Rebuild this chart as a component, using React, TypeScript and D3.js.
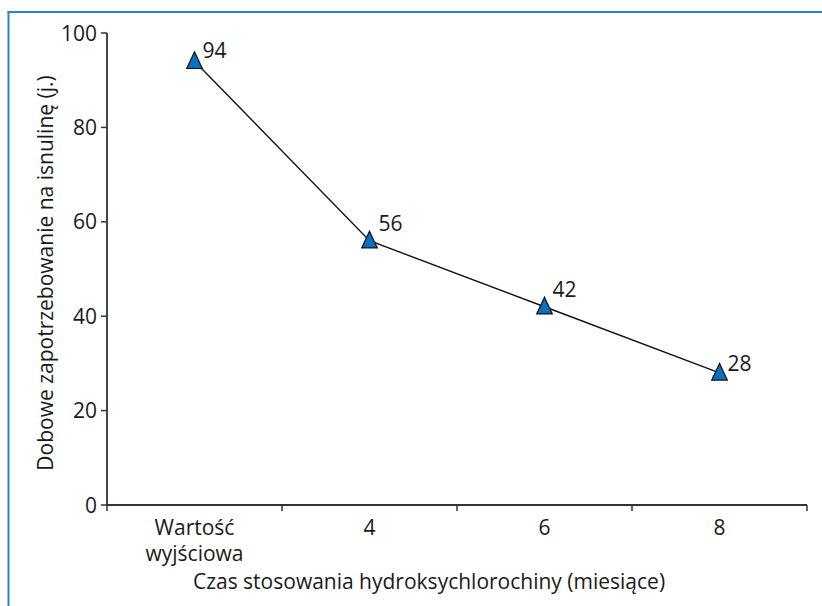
import React from "react";
import * as d3 from "d3";

const categories: string[][] = [["Wartość", "wyjściowa"], ["4"], ["6"], ["8"]];
const categoryKeys = ["base", "4", "6", "8"];
const values = [94, 56, 42, 28];
const yTicks = [0, 20, 40, 60, 80, 100];
const yTitle = "Dobowe zapotrzebowanie na isnulinę (j.)";
const xTitle = "Czas stosowania hydroksychlorochiny (miesiące)";

const FONT = "'Open Sans', 'Noto Sans', sans-serif";
const AXIS = "#333";
const FS = 21;

export default function App() {
  const W = 822, H = 606;
  const x = d3.scaleBand<string>().domain(categoryKeys).range([107, 807]).padding(0);
  const y = d3.scaleLinear().domain([0, 100]).range([505, 33]);
  const bw = x.bandwidth();
  const boundaries = [...categoryKeys.map((k) => x(k)!), x(categoryKeys[categoryKeys.length - 1])! + bw];
  const pts: [number, number][] = values.map((v, i) => [x(categoryKeys[i])! + bw / 2, y(v)]);
  const line = d3.line<[number, number]>()(pts) || "";
  const tri = "M0,-9.5 L7.8,7.2 L-7.8,7.2 Z";

  return (
    <svg width={W} height={H} style={{ position: "absolute", left: 0, top: 0, background: "#fff" }} fontFamily={FONT}>
      {/* frame */}
      <line x1={8.5} y1={12} x2={8.5} y2={H} stroke="#2a84cc" strokeWidth={2} />
      <line x1={7.5} y1={12} x2={W} y2={12} stroke="#2a84cc" strokeWidth={2} />

      {/* y axis */}
      <line x1={107} y1={y(100)} x2={107} y2={y(0)} stroke={AXIS} strokeWidth={1.8} />
      {yTicks.map((t) => (
        <g key={t}>
          <line x1={101} x2={107} y1={y(t)} y2={y(t)} stroke={AXIS} strokeWidth={1.5} />
          <text x={97} y={y(t)} dy="0.36em" textAnchor="end" fontSize={FS} fill="#1a1a1a">
            {t}
          </text>
        </g>
      ))}

      {/* x axis */}
      <line x1={106} y1={y(0)} x2={807} y2={y(0)} stroke={AXIS} strokeWidth={1.8} />
      {boundaries.map((b, i) => (
        <line key={i} x1={b} x2={b} y1={y(0)} y2={y(0) + 6} stroke={AXIS} strokeWidth={1.5} />
      ))}
      {categories.map((lines, i) => (
        <text key={i} x={x(categoryKeys[i])! + bw / 2} y={535} textAnchor="middle" fontSize={FS} fill="#1a1a1a">
          {lines.map((l, j) => (
            <tspan key={j} x={x(categoryKeys[i])! + bw / 2} dy={j === 0 ? 0 : 26}>
              {l}
            </tspan>
          ))}
        </text>
      ))}

      {/* titles */}
      <text x={429} y={589} textAnchor="middle" fontSize={FS} fill="#1a1a1a">
        {xTitle}
      </text>
      <text transform={`translate(53,${273}) rotate(-90)`} textAnchor="middle" fontSize={FS} fill="#1a1a1a">
        {yTitle}
      </text>

      {/* line */}
      <path d={line} fill="none" stroke="#111" strokeWidth={1.4} />
      {pts.map(([px, py], i) => (
        <g key={i}>
          <path d={tri} transform={`translate(${px},${py})`} fill="#0b6fbf" stroke="#111" strokeWidth={1.2} />
        </g>
      ))}
      {pts.map(([px, py], i) => {
        const offs = [[8, -3], [9, -10], [8, -10], [8, -2]][i];
        return (
          <text key={i} x={px + offs[0]} y={py + offs[1]} fontSize={FS} fill="#1a1a1a">
            {values[i]}
          </text>
        );
      })}
    </svg>
  );
}
